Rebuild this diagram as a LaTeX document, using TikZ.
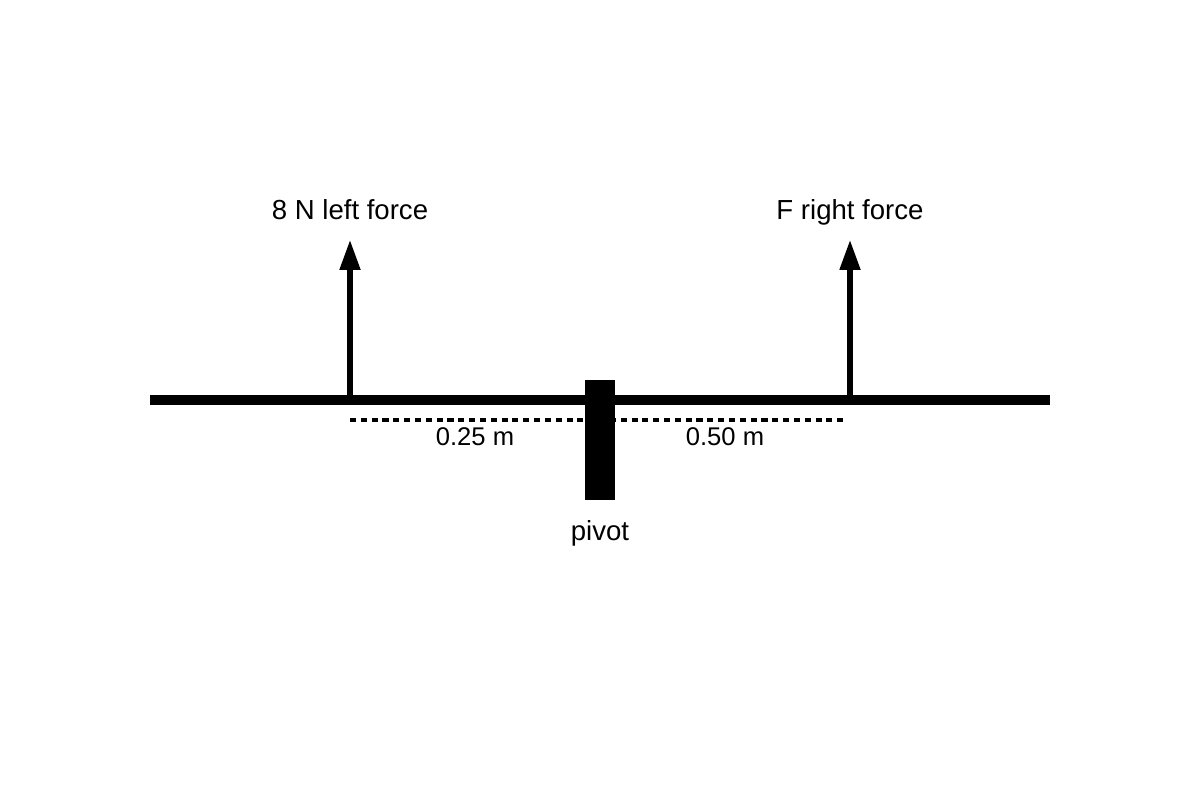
\documentclass[tikz,border=0pt]{standalone}
\usepackage{fontspec}
\setmainfont{Liberation Sans}
\usetikzlibrary{arrows.meta}

\def\beamY{400}
\def\armY{420}
\def\labelY{220}
\def\tipY{240}

\begin{document}
\begin{tikzpicture}[x=0.025cm,y=-0.025cm,
    font=\fontsize{19.6}{23}\selectfont,
    label text/.style={anchor=base,inner sep=0pt},
    arm text/.style={label text,font=\fontsize{18.2}{22}\selectfont},
    beam/.style={line width=7.1pt},
    force/.style={line width=3.6pt,-{Triangle[width=14.2pt,length=21.3pt]}},
    arm/.style={line width=2.2pt,dash pattern=on 4.3pt off 3.4pt}]
    \useasboundingbox (0,0) rectangle (1200,800);

    % beam
    \coordinate (beamL) at (150,\beamY);
    \coordinate (beamR) at (1050,\beamY);
    \draw[beam] (beamL) -- (beamR);

    % lever arms
    \coordinate (armL) at (350,\armY);
    \coordinate (armR) at (845,\armY);
    \draw[arm] (armL) -- (armR);
    \node[arm text] (armLeftLabel) at (475,445) {0.25 m};
    \node[arm text] (armRightLabel) at (725,445) {0.50 m};

    % pivot
    \node[fill=black,inner sep=0pt,minimum width=0.75cm,minimum height=3cm] (pivot) at (600,440) {};
    \node[label text] (pivotLabel) at (600,540) {pivot};

    % forces
    \foreach \name/\x/\t in {left/350/8 N left force,right/850/F right force} {
      \coordinate (\name Base) at (\x,\beamY);
      \coordinate (\name Tip) at (\x,\tipY);
      \draw[force] (\name Base) -- (\name Tip);
      \node[label text] (\name Label) at (\x,\labelY) {\t};
    }
\end{tikzpicture}
\end{document}
